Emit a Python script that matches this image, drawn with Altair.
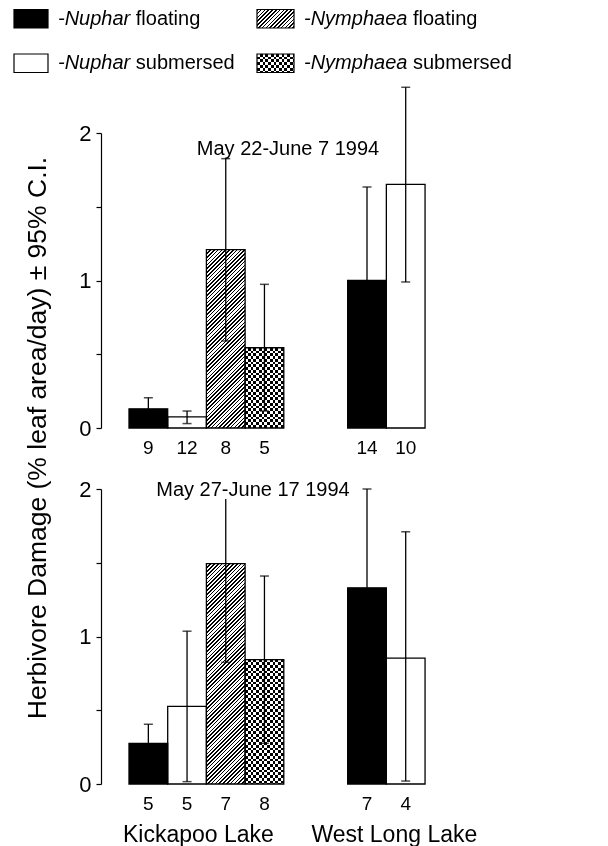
import altair as alt
import pandas as pd

# ---------------- data ----------------
TYPES = ["Nuphar floating", "Nuphar submersed", "Nymphaea floating", "Nymphaea submersed"]
GENUS = ["Nuphar", "Nuphar", "Nymphaea", "Nymphaea"]
HABIT = ["floating", "submersed", "floating", "submersed"]
LAKES = ["Kickapoo Lake", "West Long Lake"]
PERIODS = ["May 22-June 7 1994", "May 27-June 17 1994"]
Y_TITLE = "Herbivore Damage (% leaf area/day) \u00b1 95% C.I."

BAR_LAKE = ["Kickapoo Lake"] * 4 + ["West Long Lake"] * 2
BAR_TYPE = TYPES + TYPES[:2]

P1_MEAN = [0.13, 0.075, 1.21, 0.544, 1.00, 1.652]
P1_LOWER = [0.055, 0.03, 0.59, 0.115, 0.366, 0.99]
P1_UPPER = [0.205, 0.115, 1.826, 0.974, 1.634, 2.31]
P1_N = [9, 12, 8, 5, 14, 10]

P2_MEAN = [0.276, 0.526, 1.494, 0.843, 1.33, 0.854]
P2_LOWER = [0.147, 0.016, 0.825, 0.276, 0.66, 0.02]
P2_UPPER = [0.405, 1.036, 2.0, 1.41, 2.0, 1.71]
P2_N = [5, 5, 7, 8, 7, 4]

# ---------------- layout ----------------
FONT = "Liberation Sans"
PANEL_W = 330
PANEL_H = 295
PX_SLOT = 38.7
LEFT_PX = 28
GAP_SLOTS = 1.65
X_MIN = -LEFT_PX / PX_SLOT
X_MAX = X_MIN + PANEL_W / PX_SLOT
PX_PER_UNIT = PANEL_H / 2.0
BLACK = "#000000"
WHITE = "#ffffff"
HATCH_PERIOD = 3.8
HATCH_FRAC = 0.42
CELL = 5.5

CHAR_W = {"-": 0.333, "N": 0.722, "u": 0.556, "p": 0.556, "h": 0.556, "a": 0.556,
          "r": 0.333, "y": 0.5, "m": 0.833, "e": 0.556, " ": 0.278}


def text_w(s, size):
    return sum(CHAR_W.get(c, 0.556) for c in s) * size


def stripes(n, frac, x2, y2, first=BLACK, second=WHITE):
    stops = []
    i = 0
    while i < n:
        a = i / n
        b = min((i + frac) / n, 1.0)
        c = min((i + 1) / n, 1.0)
        stops += [(a, first), (b, first), (b, second), (c, second)]
        i += 1
    return alt.LinearGradient(
        gradient="linear",
        stops=[alt.GradientStop(offset=round(o, 6), color=col) for o, col in stops],
        x1=0, y1=0, x2=x2, y2=y2,
    )


def hatch(w, h):
    n = (w + h) / HATCH_PERIOD
    k = (w + h) / (w * w + h * h)
    return stripes(n, HATCH_FRAC, w * k, h * k)


def checker_cols(w):
    return stripes(w / CELL, 0.5, 1, 0, first=BLACK, second=WHITE)


def checker_rows(h):
    return stripes(h / CELL, 0.5, 0, 1, first=WHITE, second=BLACK)


def slot_positions():
    pos = []
    count = {l: 0 for l in LAKES}
    for lake in BAR_LAKE:
        offset = 0 if lake == LAKES[0] else 4 + GAP_SLOTS
        pos.append(offset + count[lake])
        count[lake] += 1
    return pos


x_scale = alt.Scale(domain=[X_MIN, X_MAX], nice=False, zero=False)
y_scale = alt.Scale(domain=[0, 2], nice=False, zero=True)
y_axis = alt.Axis(
    values=[0, 0.5, 1, 1.5, 2],
    labelExpr="datum.value % 1 === 0 ? format(datum.value, 'd') : ''",
    title=None, grid=False, domainColor=BLACK, tickColor=BLACK, labelColor=BLACK,
    labelFontSize=22, labelFont=FONT, tickSize=5, labelPadding=5,
    domainWidth=1.2, tickWidth=1.2,
)


def panel(mean, lower, upper, n, period, period_xy, bottom):
    slots = slot_positions()
    df = pd.DataFrame({
        "lake": BAR_LAKE, "type": BAR_TYPE, "mean": mean, "lower": lower,
        "upper": upper, "n": n,
        "xs": slots, "xe": [s + 1 for s in slots], "xc": [s + 0.5 for s in slots],
    })
    base = alt.Chart(df)
    X = alt.X("xs:Q", scale=x_scale, axis=None)
    X2 = alt.X2("xe")
    XC = alt.X("xc:Q", scale=x_scale, axis=None)
    YM = alt.Y("mean:Q", scale=y_scale, axis=y_axis)

    def bars(t, **kw):
        return base.transform_filter(alt.datum.type == t).mark_rect(**kw).encode(
            x=X, x2=X2, y=YM, y2=alt.datum(0))

    hatch_h = mean[BAR_TYPE.index(TYPES[2])] * PX_PER_UNIT
    check_h = mean[BAR_TYPE.index(TYPES[3])] * PX_PER_UNIT

    layers = [
        bars(TYPES[0], fill=BLACK),
        bars(TYPES[1], fill=WHITE),
        bars(TYPES[2], fill=hatch(PX_SLOT, hatch_h)),
        bars(TYPES[3], fill=checker_cols(PX_SLOT)),
        bars(TYPES[3], fill=checker_rows(check_h), blend="difference"),
        base.mark_rect(fillOpacity=0, stroke=BLACK, strokeWidth=1.3).encode(
            x=X, x2=X2, y=YM, y2=alt.datum(0)),
        base.mark_rule(color=BLACK, strokeWidth=1.3).encode(
            x=XC, y=alt.Y("lower:Q", scale=y_scale, axis=y_axis), y2="upper:Q"),
        base.mark_tick(orient="horizontal", size=9, thickness=1.5, color=BLACK).encode(
            x=XC, y=alt.Y("lower:Q", scale=y_scale, axis=y_axis)),
        base.mark_tick(orient="horizontal", size=9, thickness=1.5, color=BLACK).encode(
            x=XC, y=alt.Y("upper:Q", scale=y_scale, axis=y_axis)),
        base.mark_text(fontSize=19, font=FONT, baseline="middle", dy=20, color=BLACK).encode(
            x=XC, y=alt.datum(0), text="n:Q"),
    ]

    pdf = pd.DataFrame({"label": [period]})
    if bottom:
        w = text_w(period, 20) * 0.98
        layers.append(
            alt.Chart(pdf).mark_rect(fill=WHITE).encode(
                x=alt.value(period_xy[0] - w / 2), x2=alt.value(period_xy[0] + w / 2),
                y=alt.value(period_xy[1] - 9), y2=alt.value(period_xy[1] + 9)))
    layers.append(
        alt.Chart(pdf).mark_text(fontSize=20, font=FONT, align="center", baseline="middle",
                                 color=BLACK).encode(
            x=alt.value(period_xy[0]), y=alt.value(period_xy[1]), text="label:N"))

    if not bottom:
        layers.append(
            alt.Chart(pd.DataFrame({"t": [Y_TITLE]})).mark_text(
                angle=270, fontSize=26.5, font=FONT, align="center", baseline="middle",
                color=BLACK).encode(x=alt.value(-63), y=alt.value(305), text="t:N"))
    else:
        lk = df.groupby("lake", sort=False)["xc"].mean().reset_index()
        for lake, dx in zip(LAKES, [-8, 8]):
            layers.append(
                alt.Chart(lk).transform_filter(alt.datum.lake == lake).mark_text(
                    fontSize=23, font=FONT, align="center", baseline="alphabetic",
                    dx=dx, color=BLACK).encode(
                    x=XC, y=alt.value(PANEL_H + 58), text="lake:N"))

    return alt.layer(*layers).properties(width=PANEL_W, height=PANEL_H)


def legend():
    layers = []
    sw_w, sw_h = 34, 18.5
    fills = [BLACK, WHITE, hatch(37, sw_h), None]
    xs = [-87, -87, 156, 156]
    ys = [0.5, 45, 0.5, 45]
    for i in range(4):
        x0, y0 = xs[i], ys[i]
        w = sw_w if i < 2 else 37
        d = pd.DataFrame({"genus": ["-" + GENUS[i]], "habit": [HABIT[i]]})
        c = alt.Chart(d)
        enc = dict(x=alt.value(x0), x2=alt.value(x0 + w), y=alt.value(y0), y2=alt.value(y0 + sw_h))
        if i == 3:
            layers.append(c.mark_rect(fill=checker_cols(w)).encode(**enc))
            layers.append(c.mark_rect(fill=checker_rows(sw_h), blend="difference").encode(**enc))
            layers.append(c.mark_rect(fillOpacity=0, stroke=BLACK, strokeWidth=1.2).encode(**enc))
        else:
            layers.append(c.mark_rect(fill=fills[i], stroke=BLACK, strokeWidth=1.2).encode(**enc))
        tx = x0 + w + 10
        ty = y0 + sw_h / 2
        layers.append(c.mark_text(fontSize=20, font=FONT, fontStyle="italic", align="left",
                                  baseline="middle", color=BLACK).encode(
            x=alt.value(tx), y=alt.value(ty), text="genus:N"))
        layers.append(c.mark_text(fontSize=20, font=FONT, align="left",
                                  baseline="middle", color=BLACK).encode(
            x=alt.value(tx + text_w("-" + GENUS[i] + " ", 20)), y=alt.value(ty), text="habit:N"))
    return alt.layer(*layers).properties(width=PANEL_W, height=63)


top = panel(P1_MEAN, P1_LOWER, P1_UPPER, P1_N, PERIODS[0], (187, 16), False)
bot = panel(P2_MEAN, P2_LOWER, P2_UPPER, P2_N, PERIODS[1], (152, 1), True)

chart = alt.vconcat(legend(), top, bot, spacing=61, bounds="flush").properties(
    padding={"left": 5, "top": 0, "right": 0, "bottom": 0},
    background=WHITE,
).configure(font=FONT).configure_view(stroke="transparent", strokeWidth=0)

chart.save("out.html", embed_options={"renderer": "svg", "actions": False})
